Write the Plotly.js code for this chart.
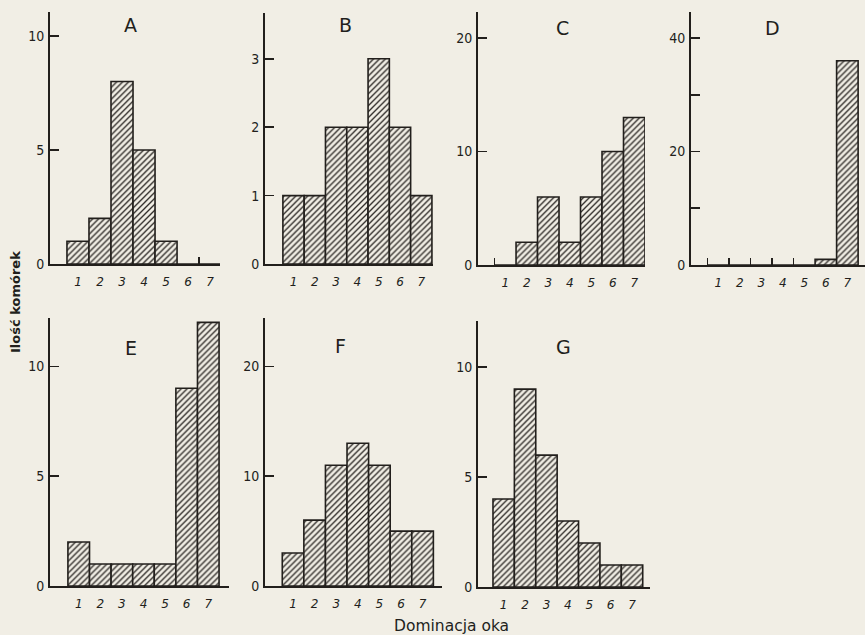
<!DOCTYPE html>
<html>
<head>
<meta charset="utf-8">
<script src="https://cdn.plot.ly/plotly-3.0.1.min.js"></script>
<style>
html,body{margin:0;padding:0;background:#f1eee5;}
#chart{width:865px;height:635px;}
</style>
</head>
<body>
<div id="chart"></div>
<script>
// ---- data ----
const categories = [1, 2, 3, 4, 5, 6, 7];
const panelNames = ['A', 'B', 'C', 'D', 'E', 'F', 'G'];
const valuesA = [1, 2, 8, 5, 1, 0, 0];
const valuesB = [1, 1, 2, 2, 3, 2, 1];
const valuesC = [0, 2, 6, 2, 6, 10, 13];
const valuesD = [0, 0, 0, 0, 0, 1, 36];
const valuesE = [2, 1, 1, 1, 1, 9, 12];
const valuesF = [3, 6, 11, 13, 11, 5, 5];
const valuesG = [4, 9, 6, 3, 2, 1, 1];
const yTickValsA = [0, 5, 10];
const yTickValsB = [0, 1, 2, 3];
const yTickValsC = [0, 10, 20];
const yTickValsD = [0, 10, 20, 30, 40];
const yTickTextD = ['0', '', '20', '', '40'];
const yTickValsE = [0, 5, 10];
const yTickValsF = [0, 10, 20];
const yTickValsG = [0, 5, 10];
const yTitle = 'Ilość komórek';
const xTitle = 'Dominacja oka';

const series = [valuesA, valuesB, valuesC, valuesD, valuesE, valuesF, valuesG];
const yTicks = [yTickValsA, yTickValsB, yTickValsC, yTickValsD, yTickValsE, yTickValsF, yTickValsG];
const yTexts = [null, null, null, yTickTextD, null, null, null];

// ---- layout geometry (pixels) ----
const W = 865, H = 635;
const BG = '#f1eee5';
const INK = '#221f1c';
const geo = [
  {px:[50,220,264,12],  xr:[-0.27,7.45], ymax:11.05, minor:[6.5,7.5]},
  {px:[265,433,264,13], xr:[-0.34,7.55], ymax:3.67,  minor:[]},
  {px:[478,645,265,12], xr:[-0.27,7.5],  ymax:22.3,  minor:[0.5]},
  {px:[691,865,265,12], xr:[-0.27,7.82], ymax:44.6,  minor:[0.5,1.5,2.5,3.5,4.5]},
  {px:[50,229,586,318], xr:[-0.33,7.96], ymax:12.2,  minor:[]},
  {px:[265,442,586,318],xr:[-0.3,7.9],   ymax:24.4,  minor:[]},
  {px:[478,650,587,321],xr:[-0.2,7.84],  ymax:12.1,  minor:[]}
];
const titlePos = [[130,25],[345,25],[562,28],[772,28],[131,348],[340,346],[563,347]];

const traces = [];
const layout = {
  width: W, height: H,
  margin: {l:0, r:0, t:0, b:0},
  paper_bgcolor: BG, plot_bgcolor: BG,
  showlegend: false,
  bargap: 0,
  font: {family: 'DejaVu Sans, sans-serif', color: INK},
  annotations: []
};

series.forEach((vals, i) => {
  const n = i + 1;
  const xa = n === 1 ? 'x' : 'x' + n;
  const ya = n === 1 ? 'y' : 'y' + n;
  traces.push({
    type: 'bar', x: categories, y: vals, xaxis: xa, yaxis: ya,
    width: 1,
    marker: {
      color: BG,
      line: {color: INK, width: 1.6},
      pattern: {shape: '/', size: 4.2, solidity: 0.32, fgcolor: '#2e2a27', bgcolor: BG, fillmode: 'replace'}
    },
    hoverinfo: 'x+y'
  });
  const g = geo[i];
  const [l, r, b, t] = g.px;
  layout['xaxis' + (n === 1 ? '' : n)] = {
    domain: [l / W, r / W],
    anchor: ya,
    range: g.xr,
    showline: true, linecolor: INK, linewidth: 2,
    showgrid: false, zeroline: false,
    tickmode: 'array', tickvals: categories, ticktext: categories.map(String),
    ticks: '', ticklabelstandoff: 6,
    tickfont: {size: 12, style: 'italic', family: 'DejaVu Sans, sans-serif', color: INK},
    minor: {tickmode: 'array', tickvals: g.minor, ticks: 'inside', ticklen: 7, tickwidth: 1.5, tickcolor: INK, showgrid: false},
    fixedrange: true
  };
  const yax = {
    domain: [1 - b / H, 1 - t / H],
    anchor: xa,
    range: [0, g.ymax],
    showline: true, linecolor: INK, linewidth: 2,
    showgrid: false, zeroline: false,
    tickmode: 'array', tickvals: yTicks[i],
    ticks: 'inside', ticklen: 9, tickwidth: 1.6, tickcolor: INK,
    tickfont: {size: 14, family: 'DejaVu Sans Condensed, DejaVu Sans, sans-serif', color: INK},
    ticklabelstandoff: 1,
    fixedrange: true
  };
  if (yTexts[i]) yax.ticktext = yTexts[i];
  layout['yaxis' + (n === 1 ? '' : n)] = yax;
  layout.annotations.push({
    xref: 'paper', yref: 'paper',
    x: titlePos[i][0] / W, y: 1 - titlePos[i][1] / H,
    text: panelNames[i], showarrow: false,
    font: {size: 19, family: 'DejaVu Sans, sans-serif', color: INK},
    xanchor: 'center', yanchor: 'middle'
  });
});

layout.annotations.push({
  xref: 'paper', yref: 'paper', x: 15 / W, y: 1 - 302 / H,
  text: yTitle, textangle: -90, showarrow: false,
  font: {size: 13, family: 'DejaVu Sans, sans-serif', color: INK, weight: 'bold'},
  xanchor: 'center', yanchor: 'middle'
});
layout.annotations.push({
  xref: 'paper', yref: 'paper', x: 452 / W, y: 1 - 626 / H,
  text: xTitle, showarrow: false,
  font: {size: 15.5, family: 'DejaVu Sans, sans-serif', color: INK},
  xanchor: 'center', yanchor: 'middle'
});

Plotly.newPlot('chart', traces, layout, {displayModeBar: false, staticPlot: true});
</script>
</body>
</html>
